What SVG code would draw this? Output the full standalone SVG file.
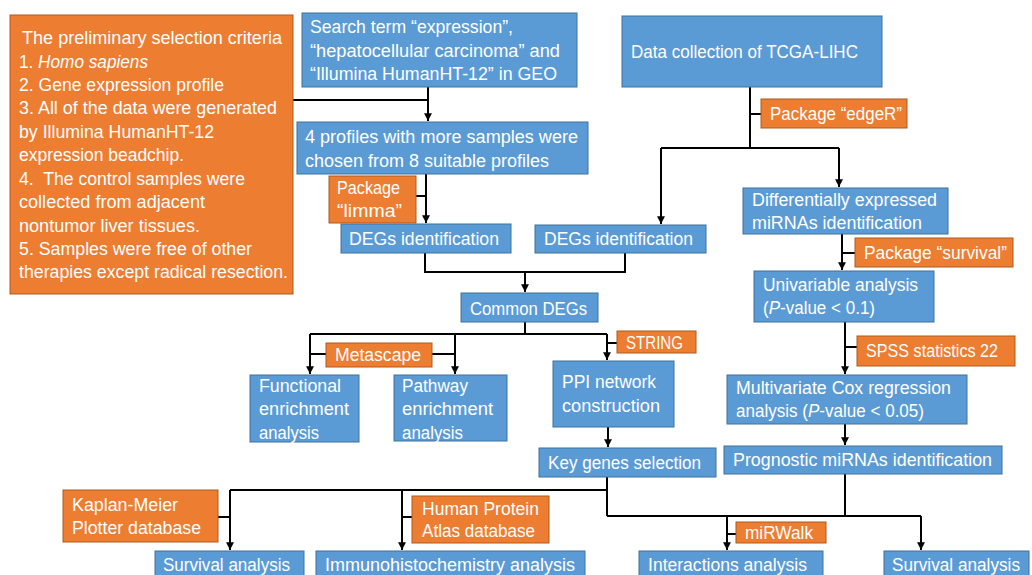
<svg xmlns="http://www.w3.org/2000/svg" width="1032" height="575" viewBox="0 0 1032 575">
<style>
.b{fill:#5B9BD5;stroke:#41719C;stroke-width:1}
.o{fill:#ED7D31;stroke:#AE5A21;stroke-width:1}
text{fill:#fff;font-family:"Liberation Sans",Arial,sans-serif;font-size:17.5px}
.c path{fill:none;stroke:#000;stroke-width:2}
.c path.a{marker-end:url(#ah)}
</style>
<defs>
<marker id="ah" markerUnits="userSpaceOnUse" markerWidth="9" markerHeight="9" refX="7" refY="4" orient="auto" viewBox="0 0 8 8">
<path d="M0,0.5 L7,4 L0,7.5 z" fill="#000"/>
</marker>
</defs>
<rect width="1032" height="575" fill="#fff"/>
<g class="c" id="connectors">
<path d="M293,100 H428"/>
<path class="a" d="M428,87 V121"/>
<path class="a" d="M426,174 V223"/>
<path d="M416,196 H426"/>
<path d="M425,253 V272 H625 V253"/>
<path class="a" d="M525,272 V292"/>
<path d="M750,87 V148"/>
<path d="M750,114 H761"/>
<path d="M661,148 H839"/>
<path class="a" d="M661,148 V224"/>
<path class="a" d="M839,148 V187"/>
<path class="a" d="M842,234 V270"/>
<path d="M842,253 H855"/>
<path class="a" d="M845,322 V374"/>
<path d="M845,347 H857"/>
<path class="a" d="M845,424 V445"/>
<path d="M525,322 V334"/>
<path d="M310,334 H607"/>
<path class="a" d="M310,334 V374"/>
<path class="a" d="M455,334 V374"/>
<path class="a" d="M607,334 V360"/>
<path d="M310,354 H326"/>
<path d="M432,354 H455"/>
<path d="M607,343 H617"/>
<path class="a" d="M608,427 V447"/>
<path d="M607,477 V516"/>
<path d="M230,490 H607"/>
<path class="a" d="M230,490 V550"/>
<path class="a" d="M402,490 V550"/>
<path d="M218,517 H230"/>
<path d="M402,517 H412"/>
<path d="M845,474 V516"/>
<path d="M607,516 H921"/>
<path class="a" d="M727,516 V550"/>
<path class="a" d="M921,516 V550"/>
<path d="M727,534 H736"/>
</g>
<g id="criteria">
<rect class="o" x="10" y="15" width="283" height="279"/>
<text x="22" y="44" textLength="260" lengthAdjust="spacingAndGlyphs">The preliminary selection criteria</text>
<text x="19" y="68" textLength="129" lengthAdjust="spacingAndGlyphs">1. <tspan font-style="italic">Homo sapiens</tspan></text>
<text x="19" y="91" textLength="205" lengthAdjust="spacingAndGlyphs">2. Gene expression profile</text>
<text x="19" y="114" textLength="258" lengthAdjust="spacingAndGlyphs">3. All of the data were generated</text>
<text x="19" y="138" textLength="195" lengthAdjust="spacingAndGlyphs">by Illumina HumanHT-12</text>
<text x="19" y="161" textLength="165" lengthAdjust="spacingAndGlyphs">expression beadchip.</text>
<text x="19" y="185" textLength="226" lengthAdjust="spacingAndGlyphs" xml:space="preserve">4.  The control samples were</text>
<text x="19" y="208" textLength="186" lengthAdjust="spacingAndGlyphs">collected from adjacent</text>
<text x="19" y="232" textLength="181" lengthAdjust="spacingAndGlyphs">nontumor liver tissues.</text>
<text x="19" y="255" textLength="233" lengthAdjust="spacingAndGlyphs">5. Samples were free of other</text>
<text x="19" y="278" textLength="269" lengthAdjust="spacingAndGlyphs">therapies except radical resection.</text>
</g>
<g id="search">
<rect class="b" x="302" y="13" width="275" height="74"/>
<text x="310" y="33" textLength="203" lengthAdjust="spacingAndGlyphs">Search term “expression”,</text>
<text x="310" y="57" textLength="250" lengthAdjust="spacingAndGlyphs">“hepatocellular carcinoma” and</text>
<text x="310" y="80" textLength="247" lengthAdjust="spacingAndGlyphs">“Illumina HumanHT-12” in GEO</text>
</g>
<g id="tcga">
<rect class="b" x="622" y="16" width="260" height="71"/>
<text x="631" y="58" textLength="227" lengthAdjust="spacingAndGlyphs">Data collection of TCGA-LIHC</text>
</g>
<g id="profiles">
<rect class="b" x="297" y="122" width="291" height="52"/>
<text x="305" y="143" textLength="273" lengthAdjust="spacingAndGlyphs">4 profiles with more samples were</text>
<text x="305" y="167" textLength="244" lengthAdjust="spacingAndGlyphs">chosen from 8 suitable profiles</text>
</g>
<g id="limma">
<rect class="o" x="329" y="176" width="87" height="47"/>
<text x="337" y="194" textLength="63" lengthAdjust="spacingAndGlyphs">Package</text>
<text x="337" y="217" textLength="65" lengthAdjust="spacingAndGlyphs">“limma”</text>
</g>
<g id="degs-left">
<rect class="b" x="341" y="224" width="170" height="29"/>
<text x="349" y="245" textLength="150" lengthAdjust="spacingAndGlyphs">DEGs identification</text>
</g>
<g id="degs-right">
<rect class="b" x="535" y="225" width="171" height="28"/>
<text x="544" y="245" textLength="149" lengthAdjust="spacingAndGlyphs">DEGs identification</text>
</g>
<g id="edger">
<rect class="o" x="761" y="99" width="146" height="29"/>
<text x="770" y="120" textLength="132" lengthAdjust="spacingAndGlyphs">Package “edgeR”</text>
</g>
<g id="diff">
<rect class="b" x="743" y="188" width="205" height="46"/>
<text x="752" y="206" textLength="185" lengthAdjust="spacingAndGlyphs">Differentially expressed</text>
<text x="752" y="229" textLength="170" lengthAdjust="spacingAndGlyphs">miRNAs identification</text>
</g>
<g id="survival-pkg">
<rect class="o" x="855" y="238" width="158" height="29"/>
<text x="864" y="259" textLength="143" lengthAdjust="spacingAndGlyphs">Package “survival”</text>
</g>
<g id="univariable">
<rect class="b" x="754" y="271" width="180" height="51"/>
<text x="763" y="291" textLength="155" lengthAdjust="spacingAndGlyphs">Univariable analysis</text>
<text x="763" y="314" textLength="112" lengthAdjust="spacingAndGlyphs">(<tspan font-style="italic">P</tspan>-value &lt; 0.1)</text>
</g>
<g id="spss">
<rect class="o" x="857" y="336" width="158" height="30"/>
<text x="866" y="357" textLength="132" lengthAdjust="spacingAndGlyphs">SPSS statistics 22</text>
</g>
<g id="multivariate">
<rect class="b" x="727" y="375" width="240" height="49"/>
<text x="736" y="394" textLength="215" lengthAdjust="spacingAndGlyphs">Multivariate Cox regression</text>
<text x="736" y="417" textLength="188" lengthAdjust="spacingAndGlyphs">analysis (<tspan font-style="italic">P</tspan>-value &lt; 0.05)</text>
</g>
<g id="prognostic">
<rect class="b" x="724" y="446" width="278" height="28"/>
<text x="733" y="466" textLength="259" lengthAdjust="spacingAndGlyphs">Prognostic miRNAs identification</text>
</g>
<g id="common">
<rect class="b" x="461" y="293" width="137" height="29"/>
<text x="470" y="315" textLength="117" lengthAdjust="spacingAndGlyphs">Common DEGs</text>
</g>
<g id="metascape">
<rect class="o" x="326" y="343" width="106" height="24"/>
<text x="335" y="361" textLength="86" lengthAdjust="spacingAndGlyphs">Metascape</text>
</g>
<g id="string">
<rect class="o" x="617" y="331" width="79" height="22"/>
<text x="626" y="349" textLength="57" lengthAdjust="spacingAndGlyphs">STRING</text>
</g>
<g id="functional">
<rect class="b" x="250" y="375" width="109" height="67"/>
<text x="259" y="392" textLength="82" lengthAdjust="spacingAndGlyphs">Functional</text>
<text x="259" y="415" textLength="90" lengthAdjust="spacingAndGlyphs">enrichment</text>
<text x="259" y="439" textLength="60" lengthAdjust="spacingAndGlyphs">analysis</text>
</g>
<g id="pathway">
<rect class="b" x="394" y="375" width="113" height="66"/>
<text x="402" y="392" textLength="66" lengthAdjust="spacingAndGlyphs">Pathway</text>
<text x="402" y="415" textLength="91" lengthAdjust="spacingAndGlyphs">enrichment</text>
<text x="402" y="439" textLength="61" lengthAdjust="spacingAndGlyphs">analysis</text>
</g>
<g id="ppi">
<rect class="b" x="553" y="361" width="121" height="66"/>
<text x="562" y="388" textLength="94" lengthAdjust="spacingAndGlyphs">PPI network</text>
<text x="562" y="412" textLength="98" lengthAdjust="spacingAndGlyphs">construction</text>
</g>
<g id="key">
<rect class="b" x="539" y="448" width="177" height="29"/>
<text x="548" y="469" textLength="153" lengthAdjust="spacingAndGlyphs">Key genes selection</text>
</g>
<g id="kaplan">
<rect class="o" x="63" y="490" width="155" height="52"/>
<text x="72" y="511" textLength="106" lengthAdjust="spacingAndGlyphs">Kaplan-Meier</text>
<text x="72" y="534" textLength="129" lengthAdjust="spacingAndGlyphs">Plotter database</text>
</g>
<g id="hpa">
<rect class="o" x="412" y="496" width="137" height="47"/>
<text x="422" y="515" textLength="117" lengthAdjust="spacingAndGlyphs">Human Protein</text>
<text x="422" y="537" textLength="113" lengthAdjust="spacingAndGlyphs">Atlas database</text>
</g>
<g id="mirwalk">
<rect class="o" x="736" y="522" width="90" height="21"/>
<text x="745" y="539" textLength="68" lengthAdjust="spacingAndGlyphs">miRWalk</text>
</g>
<g id="survival-left">
<rect class="b" x="155" y="551" width="149" height="30"/>
<text x="163" y="571" textLength="127" lengthAdjust="spacingAndGlyphs">Survival analysis</text>
</g>
<g id="immuno">
<rect class="b" x="316" y="551" width="269" height="30"/>
<text x="325" y="571" textLength="250" lengthAdjust="spacingAndGlyphs">Immunohistochemistry analysis</text>
</g>
<g id="interactions">
<rect class="b" x="639" y="551" width="184" height="30"/>
<text x="648" y="571" textLength="159" lengthAdjust="spacingAndGlyphs">Interactions analysis</text>
</g>
<g id="survival-right">
<rect class="b" x="884" y="551" width="145" height="30"/>
<text x="892" y="571" textLength="128" lengthAdjust="spacingAndGlyphs">Survival analysis</text>
</g>
</svg>
